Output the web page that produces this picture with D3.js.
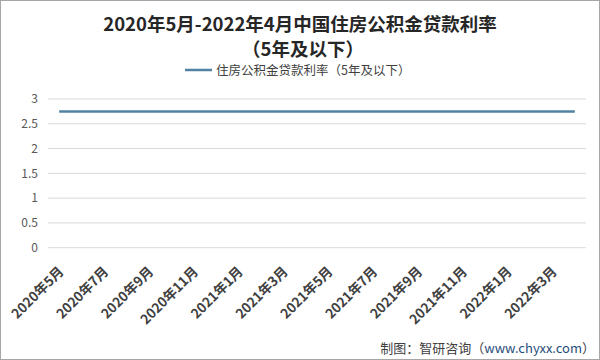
<!DOCTYPE html>
<html><head><meta charset="utf-8">
<script src="https://cdn.jsdelivr.net/npm/d3@7"></script>
<style>body{margin:0;background:#fff}svg{display:block}</style>
</head><body>
<svg id="c" width="600" height="360"></svg>
<script>
const months = ["2020年5月","2020年6月","2020年7月","2020年8月","2020年9月","2020年10月","2020年11月","2020年12月",
"2021年1月","2021年2月","2021年3月","2021年4月","2021年5月","2021年6月","2021年7月","2021年8月","2021年9月","2021年10月","2021年11月","2021年12月",
"2022年1月","2022年2月","2022年3月","2022年4月"];
const rates = [2.75,2.75,2.75,2.75,2.75,2.75,2.75,2.75,2.75,2.75,2.75,2.75,2.75,2.75,2.75,2.75,2.75,2.75,2.75,2.75,2.75,2.75,2.75,2.75];
const yTicks = [0,0.5,1,1.5,2,2.5,3];
const seriesName = "住房公积金贷款利率（5年及以下）";

const svg = d3.select("#c");
const W=600,H=360;
const font = "'Noto Sans CJK SC', 'Noto Sans', sans-serif";
svg.append("rect").attr("x",0.5).attr("y",0.5).attr("width",W-1).attr("height",H-1).attr("fill","#fff").attr("stroke","#a6a6a6");

const x = d3.scaleBand().domain(months).range([48,586]);
const y = d3.scaleLinear().domain([0,3]).range([247.7,99]);

// gridlines
svg.append("g").selectAll("line").data(yTicks).join("line")
  .attr("x1",48).attr("x2",586).attr("y1",d=>y(d)).attr("y2",d=>y(d))
  .attr("stroke","#d9d9d9").attr("stroke-width",1);

const yAxis = svg.append("g").attr("transform","translate(48,0)")
  .call(d3.axisLeft(y).tickValues(yTicks).tickSize(0).tickPadding(10).tickFormat(d3.format("")));
yAxis.select(".domain").remove();
yAxis.selectAll("text").attr("font-family",font).attr("font-size",12).attr("fill","#595959");

const xAxis = svg.append("g").attr("transform","translate(0,253)")
  .call(d3.axisBottom(x).tickValues(months.filter((d,i)=>i%2===0)).tickSize(0).tickPadding(0));
xAxis.select(".domain").remove();
xAxis.selectAll("text").attr("font-family",font).attr("font-size",13.5).attr("font-weight","bold").attr("fill","#404040")
  .attr("text-anchor","end").attr("dy","0.35em").attr("transform","translate(2,16) rotate(-45)");

const line = d3.line().x((d,i)=>x(months[i])+x.bandwidth()/2).y(d=>y(d));
svg.append("path").datum(rates).attr("d",line).attr("fill","none").attr("stroke","#5282a2").attr("stroke-width",2.5);

// title
svg.append("text").attr("x",300).attr("y",31).attr("text-anchor","middle").attr("font-family",font)
  .attr("font-size",18.5).attr("font-weight","bold").attr("fill","#262626").text("2020年5月-2022年4月中国住房公积金贷款利率");
svg.append("text").attr("x",303).attr("y",56).attr("text-anchor","middle").attr("font-family",font)
  .attr("font-size",18.5).attr("font-weight","bold").attr("fill","#262626").text("（5年及以下）");

// legend
svg.append("line").attr("x1",185).attr("x2",212).attr("y1",70).attr("y2",70).attr("stroke","#5282a2").attr("stroke-width",2.5);
svg.append("text").attr("x",216).attr("y",74.5).attr("font-family",font).attr("font-size",12.5).attr("fill","#404040").text(seriesName);

// source
const src = svg.append("text").attr("x",595).attr("y",353).attr("text-anchor","end").attr("font-family",font).attr("font-size",13).attr("fill","#404040");
src.append("tspan").text("制图：智研咨询（");
src.append("tspan").attr("fill","#1f4e79").text("www.chyxx.com");
src.append("tspan").text("）");
</script>
</body></html>
